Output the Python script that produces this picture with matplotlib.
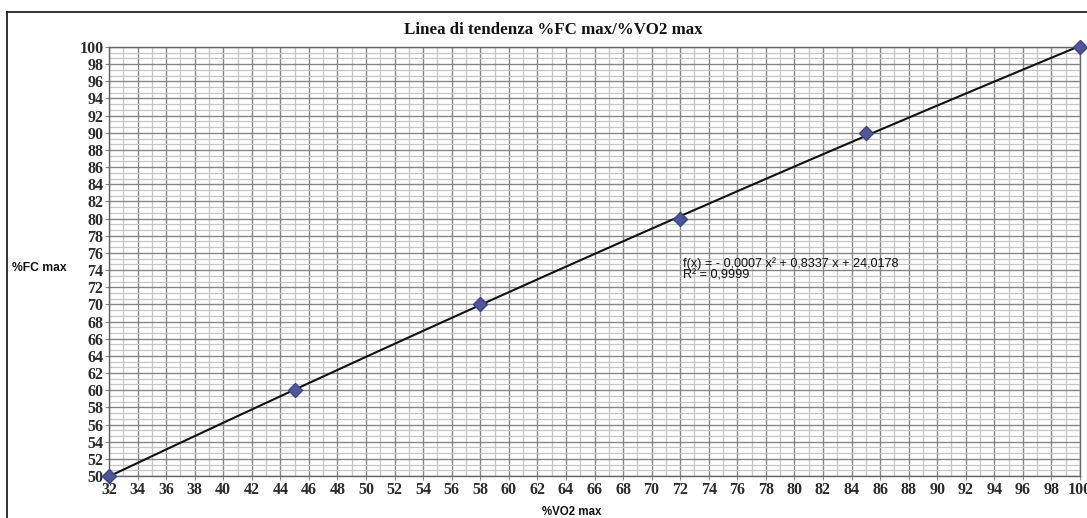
import numpy as np
import matplotlib
matplotlib.use("Agg")
import matplotlib.pyplot as plt
from matplotlib.lines import Line2D
from matplotlib.ticker import MultipleLocator

vo2 = [32, 45, 58, 72, 85, 100]
fc = [50, 60, 70, 80, 90, 100]
title = "Linea di tendenza %FC max/%VO2 max"
xlabel = "%VO2 max"
ylabel = "%FC max"
eq_text = "f(x) = - 0,0007 x² + 0,8337 x + 24,0178\nR² = 0,9999"

W, H = 1087, 518
fig = plt.figure(figsize=(W / 100, H / 100), dpi=100)
ax = fig.add_axes([109 / W, 1 - 476 / H, (1080 - 109) / W, (476 - 47) / H])

# border of chart
fig.add_artist(Line2D([7 / W, 1], [1 - 12 / H, 1 - 12 / H], color="#222222", lw=1.3))
fig.add_artist(Line2D([7 / W, 7 / W], [0, 1 - 12 / H], color="#222222", lw=1.3))

ax.set_xlim(32, 100)
ax.set_ylim(50, 100)
ax.xaxis.set_major_locator(MultipleLocator(2))
ax.xaxis.set_minor_locator(MultipleLocator(1))
ax.yaxis.set_major_locator(MultipleLocator(2))
ax.yaxis.set_minor_locator(MultipleLocator(2 / 3))
ax.grid(which="minor", color="#c6c6c6", lw=0.9)
ax.grid(which="major", color="#858585", lw=1.0)
ax.set_axisbelow(True)
for s in ax.spines.values():
    s.set_color("#666666")
    s.set_linewidth(1.0)

ax.tick_params(which="major", length=3, width=0.8, color="#888888", pad=1,
               labelsize=11.5)
ax.tick_params(which="minor", length=0)
for lab in ax.get_xticklabels() + ax.get_yticklabels():
    lab.set_fontfamily("Liberation Serif")
    lab.set_fontweight("bold")
    lab.set_color("#2a2a2a")

# trend line (polynomial fit of degree 2)
coef = np.polyfit(vo2, fc, 2)
xs = np.linspace(min(vo2), max(vo2), 200)
ax.plot(xs, np.polyval(coef, xs), color="#111111", lw=1.5, zorder=3)
ax.plot(vo2, fc, linestyle="none", marker="D", markersize=7,
        color="#4f5699", markeredgecolor="#3d4485", zorder=4, clip_on=False)

ax.text(72.2, 74.1, eq_text, fontsize=9.1, family="Liberation Sans",
        color="#111111", linespacing=0.95, va="center", ha="left", zorder=5)

fig.text(553 / W, 1 - 30 / H, title, ha="center", va="center",
         fontsize=12.2, fontweight="bold", family="Liberation Serif", color="#111111")
fig.text(39 / W, 1 - 268 / H, ylabel, ha="center", va="center",
         fontsize=8.7, fontweight="bold", family="Liberation Sans", color="#111111")
fig.text(572 / W, 1 - 512 / H, xlabel, ha="center", va="center",
         fontsize=8.3, fontweight="bold", family="Liberation Sans", color="#111111")

fig.savefig("out.png", dpi=100)
